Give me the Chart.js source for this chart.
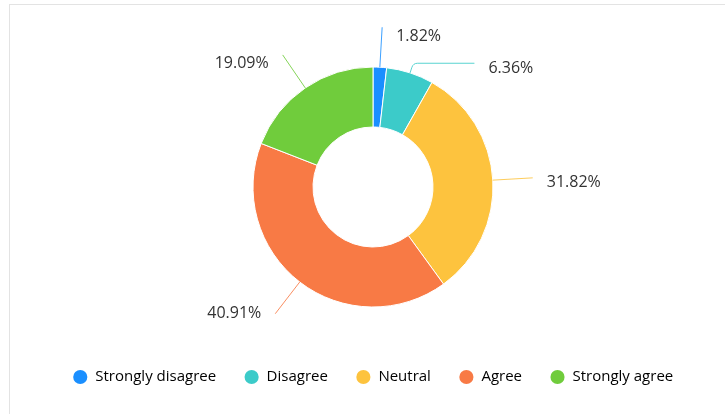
<!DOCTYPE html>
<html>
<head>
<meta charset="utf-8">
<title>Survey responses</title>
<script src="https://cdn.jsdelivr.net/npm/chart.js@4.4.1/dist/chart.umd.min.js"></script>
<style>
  html, body {
    margin: 0;
    padding: 0;
    background: #fff;
    overflow: hidden;
  }

  .frame {
    position: absolute;
    left: 9px;
    top: 4px;
    width: 800px;
    height: 500px;
    border: 1px solid #e3e3e3;
  }

  #chart {
    position: absolute;
    left: 0;
    top: 0;
  }
</style>
</head>
<body>
<div class="frame"></div>
<canvas id="chart" width="725" height="414"></canvas>
<script>
'use strict'

const categories = ['Strongly disagree', 'Disagree', 'Neutral', 'Agree', 'Strongly agree']
const shares = [1.82, 6.36, 31.82, 40.91, 19.09]
const sliceColors = ['#1a8fff', '#3ccbc9', '#fdc33e', '#f87a45', '#70cc3c']

// percentage labels outside the ring, joined to their slice by a thin leader line
const sliceLabelsPlugin = {
  id: 'sliceLabels',
  afterDatasetsDraw (chart, args, options) {
    const { ctx } = chart
    const meta = chart.getDatasetMeta(0)
    const items = meta.data.map((arc, i) => {
      const { x, y, startAngle, endAngle, outerRadius } = arc.getProps(['x', 'y', 'startAngle', 'endAngle', 'outerRadius'], true)
      const mid = (startAngle + endAngle) / 2
      const cos = Math.cos(mid)
      const sin = Math.sin(mid)
      const ly = y + sin * (outerRadius + options.length)
      return {
        i, cx: x, cy: y, cos, sin,
        right: cos >= 0,
        p0: { x: x + cos * outerRadius, y: y + sin * outerRadius },
        natural: ly,
        ly
      }
    })

    // push labels apart on each side so the texts do not overlap
    ;[true, false].forEach((side) => {
      const group = items.filter((it) => it.right === side).sort((a, b) => a.ly - b.ly)
      for (let k = 1; k < group.length; k++) {
        if (group[k].ly < group[k - 1].ly + options.gap) {
          group[k].ly = group[k - 1].ly + options.gap
        }
      }
    })

    ctx.save()
    ctx.font = options.font
    ctx.textBaseline = 'middle'
    ctx.lineWidth = 1
    items.forEach((it) => {
      const R = meta.data[it.i].outerRadius + options.length
      const dy = it.ly - it.cy
      const dx = Math.sqrt(Math.max(R * R - dy * dy, 0))
      const end = { x: it.cx + (it.right ? dx : -dx), y: it.ly }
      const moved = Math.abs(it.ly - it.natural) > 0.5

      ctx.strokeStyle = sliceColors[it.i]
      ctx.globalAlpha = 0.85
      ctx.beginPath()
      ctx.moveTo(it.p0.x, it.p0.y)
      const t = (it.ly - it.p0.y) / it.sin
      if (moved && t > 0) {
        const bend = { x: it.p0.x + it.cos * t, y: it.ly }
        ctx.arcTo(bend.x, bend.y, end.x, end.y, 6)
      }
      ctx.lineTo(end.x, end.y)
      ctx.stroke()

      // text sits a little toward the ring's horizontal middle
      const ty = it.ly + (moved ? 5 : 4 - it.sin * 5)
      ctx.globalAlpha = 1
      ctx.fillStyle = options.color
      ctx.textAlign = it.right ? 'left' : 'right'
      const text = shares[it.i].toFixed(2) + '%'
      ctx.fillText(text, end.x + (it.right ? options.offset : -options.offset), ty)
    })
    ctx.restore()
  }
}

Chart.register(sliceLabelsPlugin)

const ctx = document.getElementById('chart').getContext('2d')
const chart = new Chart(ctx, {
  type: 'doughnut',
  data: {
    labels: categories,
    datasets: [
      {
        data: shares,
        backgroundColor: sliceColors,
        borderColor: '#fff',
        borderWidth: 1,
        radius: 120,
        cutout: '50%'
      }
    ]
  },
  options: {
    responsive: false,
    devicePixelRatio: 1,
    animation: false,
    layout: {
      padding: { left: 21, right: 0, top: 32.5, bottom: 19.5 }
    },
    plugins: {
      tooltip: { enabled: false },
      legend: {
        position: 'bottom',
        labels: {
          usePointStyle: true,
          pointStyle: 'circle',
          boxWidth: 15,
          boxHeight: 10,
          padding: 28,
          color: '#444',
          font: { family: 'Open Sans', size: 15 },
          generateLabels (c) {
            return categories.map((name, i) => ({
              text: name,
              fillStyle: sliceColors[i],
              strokeStyle: sliceColors[i],
              lineWidth: 0,
              pointStyle: 'circle',
              hidden: false,
              index: i
            }))
          }
        }
      },
      sliceLabels: {
        length: 40,
        gap: 36,
        offset: 14,
        color: '#333',
        font: '16px "Open Sans"'
      }
    }
  }
})
</script>
</body>
</html>
